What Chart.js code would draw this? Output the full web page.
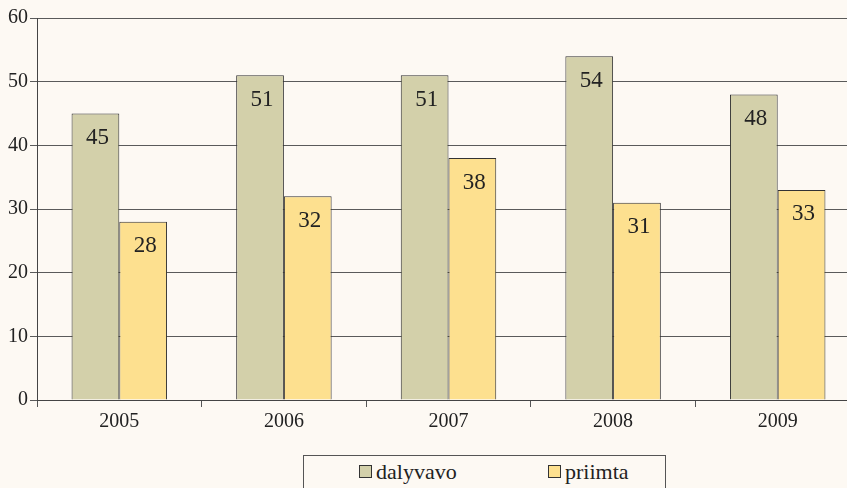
<!DOCTYPE html>
<html>
<head>
<meta charset="utf-8">
<script src="https://cdn.jsdelivr.net/npm/chart.js@4/dist/chart.umd.min.js"></script>
<style>
  html, body { margin: 0; padding: 0; background: #fdf9f3; overflow: hidden; }
  body { width: 847px; height: 488px; position: relative; }
  #wrap { position: absolute; left: 0; top: 0; width: 860px; height: 432px; }
  #legend {
    position: absolute; left: 303px; top: 455px; width: 363px; height: 40px;
    border: 1px solid #555; box-sizing: border-box;
    font-family: "Times New Roman", "Liberation Serif", serif; font-size: 22px; color: #222;
  }
  #legend span.item { position: absolute; top: 3px; white-space: nowrap; }
  #legend i { display: inline-block; width: 11px; height: 11px; border: 1px solid #333; margin-right: 4px; vertical-align: 1px; }
</style>
</head>
<body>
<div id="wrap"><canvas id="chart"></canvas></div>
<div id="legend"></div>
<script>
// values
const years = ["2005", "2006", "2007", "2008", "2009"];
const dalyvavo = [45, 51, 51, 54, 48];
const priimta = [28, 32, 38, 31, 33];
const seriesNames = ["dalyvavo", "priimta"];
const seriesColors = ["#d3d0aa", "#fde08f"];

const serif = "'Times New Roman', 'Liberation Serif', serif";

// numbers written inside the top of every bar
const barLabels = {
  id: "barLabels",
  afterDatasetsDraw(chart) {
    const ctx = chart.ctx;
    ctx.save();
    ctx.font = "23px " + serif;
    ctx.fillStyle = "#222";
    ctx.textAlign = "center";
    ctx.textBaseline = "top";
    chart.data.datasets.forEach((ds, i) => {
      chart.getDatasetMeta(i).data.forEach((bar, j) => {
        ctx.fillText(ds.data[j], bar.x + 2, bar.y + 13);
      });
    });
    ctx.restore();
  }
};

const chart = new Chart(document.getElementById("chart"), {
  type: "bar",
  data: {
    labels: years,
    datasets: [
      { label: seriesNames[0], data: dalyvavo, backgroundColor: seriesColors[0], borderColor: "#333", borderWidth: 1 },
      { label: seriesNames[1], data: priimta, backgroundColor: seriesColors[1], borderColor: "#333", borderWidth: 1 }
    ]
  },
  options: {
    responsive: true,
    maintainAspectRatio: false,
    animation: false,
    datasets: { bar: { categoryPercentage: 0.58, barPercentage: 1.0 } },
    layout: { padding: { top: 18, right: 0, left: 0, bottom: 0 } },
    plugins: { legend: { display: false }, tooltip: { enabled: false } },
    scales: {
      x: {
        grid: { drawOnChartArea: false, drawTicks: true, tickLength: 7, color: "#555", offset: true },
        border: { color: "#444", width: 1 },
        ticks: { font: { family: serif, size: 20 }, color: "#222", padding: 3 },
        afterFit(scale) { scale.height = 32; }
      },
      y: {
        min: 0, max: 60,
        ticks: { stepSize: 10, font: { family: serif, size: 20 }, color: "#222", padding: 2 },
        grid: { color: "#5a5a5a", tickLength: 7 },
        border: { color: "#444", width: 1 },
        afterFit(scale) { scale.width = 37; }
      }
    }
  },
  plugins: [barLabels]
});

// legend drawn as html below the chart
const legend = document.getElementById("legend");
const legendX = [55, 244];
seriesNames.forEach((name, i) => {
  const s = document.createElement("span");
  s.className = "item";
  s.style.left = legendX[i] + "px";
  s.innerHTML = '<i style="background:' + seriesColors[i] + '"></i>' + name;
  legend.appendChild(s);
});
</script>
</body>
</html>
